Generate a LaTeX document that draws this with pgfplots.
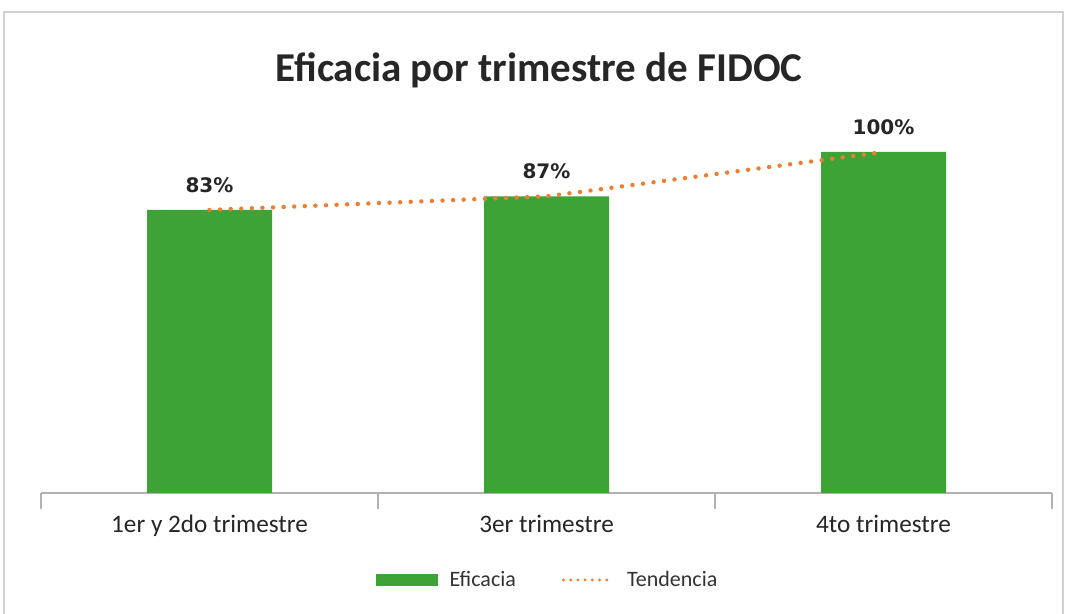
\documentclass[border=0pt]{standalone}
\usepackage{fontspec}
\setmainfont{Carlito}
\newfontfamily\dejavu{DejaVu Sans}
\usepackage{pgfplots}
\pgfplotsset{compat=1.18}
\definecolor{cBar}{HTML}{3DA337}
\definecolor{cTrend}{HTML}{ED7D31}
\definecolor{cText}{HTML}{262626}

\begin{document}
\begin{tikzpicture}
\useasboundingbox (0,0) rectangle (538pt,307pt);
\fill[white] (0,0) rectangle (538pt,307pt);
% chart frame
\draw[black!18,line width=0.6pt] (2pt,0) -- (2pt,301pt) -- (531.5pt,301pt) -- (531.5pt,0);
\node[font=\bfseries\fontsize{20.5}{24}\selectfont,text=cText] at (269.5pt,272pt)
     {Eficacia por trimestre de FIDOC};
\begin{axis}[at={(20.5pt,60.5pt)},anchor=south west,
    scale only axis,width=505.5pt,height=170.5pt,
    xmin=-0.5,xmax=2.5,ymin=0,ymax=100,clip=false,
    axis x line*=bottom,axis y line=none,
    x axis line style={draw=black!30,line width=0.7pt},
    xtick={0,1,2},major tick length=0pt,
    xticklabels={1er y 2do trimestre,3er trimestre,4to trimestre},
    xticklabel style={font=\fontsize{12.6}{14}\selectfont,text=cText,anchor=north,inner sep=0pt,yshift=-11pt},
    extra x ticks={-0.5,0.5,1.5,2.5},extra x tick labels={},
    extra x tick style={major tick length=8pt,tick align=outside,tick style={draw=black!30,line width=0.7pt}},
    /pgf/number format/assume math mode=true,
    legend columns=2,
    legend style={at={(0.5,-0.255)},anchor=center,draw=none,fill=none,
      font=\fontsize{11}{13}\selectfont,text=black!80,
      nodes={inner sep=0pt},column sep=6pt,
      /tikz/every even column/.append style={column sep=23pt}},
  ]
\addplot[ybar,bar width=62.5pt,fill=cBar,draw=none,
    nodes near coords={\pgfmathprintnumber{\pgfplotspointmeta}\%},
    every node near coord/.append style={font=\dejavu\bfseries\fontsize{10}{12}\selectfont,
      text=cText,anchor=south,inner sep=0pt,yshift=8.5pt},
    legend image code/.code={\fill[cBar] (0pt,-3.2pt) rectangle (31pt,3.2pt);}]
  coordinates {(0,83) (1,87) (2,100)};
\addlegendentry{Eficacia}
\addplot[color=cTrend,line width=2.2pt,line cap=round,dash pattern=on 0pt off 5.3pt,
    legend image code/.code={\draw[cTrend,line width=1.6pt,line cap=round,dash pattern=on 0pt off 3.6pt] (0pt,0pt) -- (25pt,0pt);}]
  coordinates {(0,83) (1,87) (2,100)};
\addlegendentry{Tendencia}
\end{axis}
\end{tikzpicture}
\end{document}
